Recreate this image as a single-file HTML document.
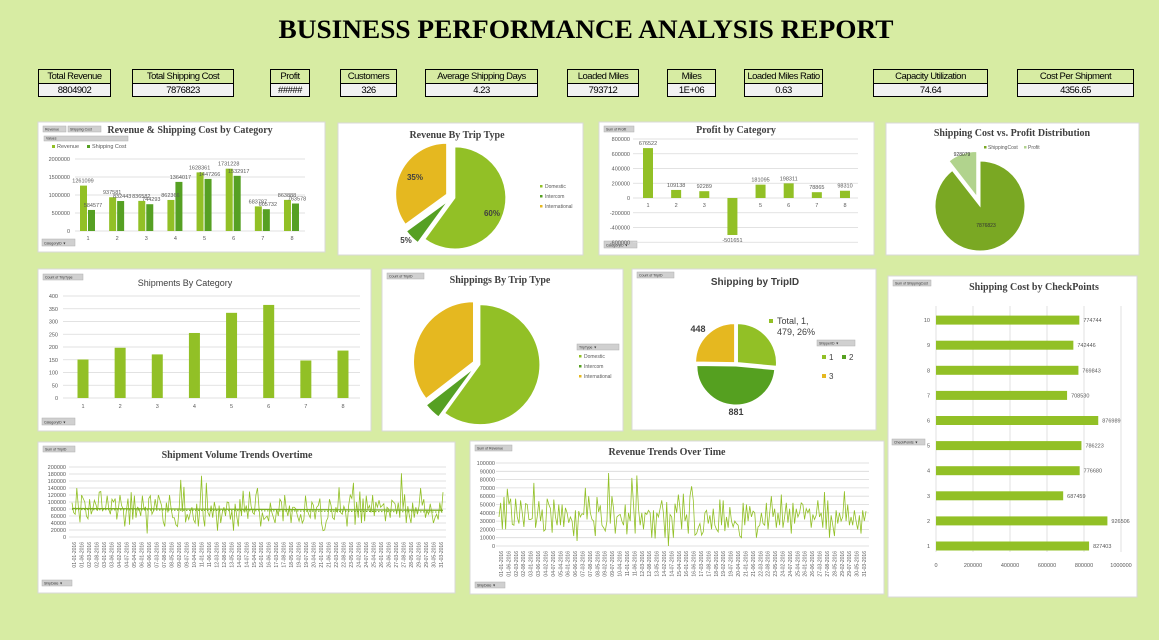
<!DOCTYPE html>
<html><head><meta charset="utf-8">
<style>
html,body{margin:0;padding:0;}
body{width:1159px;height:640px;background:#d7eca3;position:relative;overflow:hidden;font-family:"Liberation Sans",sans-serif;}
.kpi{position:absolute;top:69px;border:1px solid #000;font-size:9.5px;letter-spacing:-0.5px;text-align:center;line-height:13px;color:#000;}
.kpi .h{height:13px;border-bottom:1px solid #000;background:#d7eca3;white-space:nowrap;overflow:hidden;}
.kpi .v{height:12px;background:#f2f2f2;}
svg{position:absolute;left:0;top:0;}
</style></head>
<body>
<svg id="s" width="1159" height="640">
<text x="586" y="38" text-anchor="middle" font-family="Liberation Serif,serif" font-weight="bold" font-size="26" textLength="615" lengthAdjust="spacingAndGlyphs" fill="#000">BUSINESS PERFORMANCE ANALYSIS REPORT</text>
<rect x="38" y="122" width="287" height="130" fill="#fff" stroke="#d9d9d9"/>
<rect x="338" y="123" width="245" height="132" fill="#fff" stroke="#d9d9d9"/>
<rect x="599" y="122" width="275" height="133" fill="#fff" stroke="#d9d9d9"/>
<rect x="886" y="123" width="253" height="132" fill="#fff" stroke="#d9d9d9"/>
<rect x="38" y="269" width="333" height="162" fill="#fff" stroke="#d9d9d9"/>
<rect x="382" y="269" width="241" height="162" fill="#fff" stroke="#d9d9d9"/>
<rect x="632" y="269" width="244" height="161" fill="#fff" stroke="#d9d9d9"/>
<rect x="888" y="276" width="249" height="321" fill="#fff" stroke="#d9d9d9"/>
<rect x="38" y="442" width="417" height="151" fill="#fff" stroke="#d9d9d9"/>
<rect x="470" y="441" width="414" height="153" fill="#fff" stroke="#d9d9d9"/>
<g font-family="Liberation Serif,serif" font-weight="bold" font-size="10" fill="#404040" text-anchor="middle">
<text x="190" y="133">Revenue &amp; Shipping Cost by Category</text>
<text x="457" y="138">Revenue By Trip Type</text>
<text x="736" y="133">Profit by Category</text>
<text x="1012" y="136">Shipping Cost vs. Profit Distribution</text>
<text x="500" y="283">Shippings By Trip Type</text>
<text x="1034" y="290">Shipping Cost by CheckPoints</text>
<text x="237" y="458">Shipment Volume Trends Overtime</text>
<text x="667" y="455">Revenue Trends Over Time</text>
</g>
<text x="185" y="286" text-anchor="middle" font-size="9" fill="#404040">Shipments By Category</text>
<text x="755" y="285" text-anchor="middle" font-size="10" font-weight="bold" fill="#404040">Shipping by TripID</text>
</svg>

<div class="kpi" style="left:38px;width:71px"><div class="h">Total Revenue</div><div class="v">8804902</div></div>
<div class="kpi" style="left:132px;width:100px"><div class="h">Total Shipping Cost</div><div class="v">7876823</div></div>
<div class="kpi" style="left:270px;width:38px"><div class="h">Profit</div><div class="v">#####</div></div>
<div class="kpi" style="left:340px;width:55px"><div class="h">Customers</div><div class="v">326</div></div>
<div class="kpi" style="left:425px;width:111px"><div class="h">Average Shipping Days</div><div class="v">4.23</div></div>
<div class="kpi" style="left:567px;width:70px"><div class="h">Loaded Miles</div><div class="v">793712</div></div>
<div class="kpi" style="left:667px;width:47px"><div class="h">Miles</div><div class="v">1E+06</div></div>
<div class="kpi" style="left:744px;width:77px"><div class="h">Loaded Miles Ratio</div><div class="v">0.63</div></div>
<div class="kpi" style="left:873px;width:113px"><div class="h">Capacity Utilization</div><div class="v">74.64</div></div>
<div class="kpi" style="left:1017px;width:115px"><div class="h">Cost Per Shipment</div><div class="v">4356.65</div></div>

<script>
const catA=[1,2,3,4,5,6,7,8];
const revA=[1261099,937581,836582,862366,1628361,1731228,683787,863888];
const shipA=[584577,832443,744293,1364017,1447266,1532917,605732,763578];
const ticksA=[0,500000,1000000,1500000,2000000];
const tripTypes=["Domestic","Intercom","International"];
const revByTrip=[60,5,35];
const catC=[1,2,3,4,5,6,7,8];
const profitC=[676522,109138,92289,-501651,181095,198311,78865,98310];
const ticksC=[800000,600000,400000,200000,0,-200000,-400000,-600000];
const costProfitLabels=["ShippingCost","Profit"];
const costProfitVals=[7876823,928079];
const catE=[1,2,3,4,5,6,7,8];
const shipCountE=[151,197,171,255,334,365,147,186];
const ticksE=[0,50,100,150,200,250,300,350,400];
const shipByTrip=[60,4.5,35.5];
const shipperIds=["1","2","3"];
const shipperCounts=[479,881,448];
const checkpoints=[1,2,3,4,5,6,7,8,9,10];
const cpCost=[827403,926506,687459,776680,786223,876989,708530,769843,742446,774744];
const ticksH=[0,200000,400000,600000,800000,1000000];
const ticksI=[0,20000,40000,60000,80000,100000,120000,140000,160000,180000,200000];
const ticksJ=[0,10000,20000,30000,40000,50000,60000,70000,80000,90000,100000];
const dateLabels=["01-01-2016","01-06-2016","02-03-2016","02-08-2016","03-01-2016","03-06-2016","04-02-2016","04-07-2016","05-04-2016","06-01-2016","06-06-2016","07-03-2016","07-08-2016","08-05-2016","09-02-2016","09-07-2016","10-04-2016","11-01-2016","11-06-2016","12-03-2016","12-08-2016","13-05-2016","14-02-2016","14-07-2016","15-04-2016","16-01-2016","16-06-2016","17-03-2016","17-08-2016","18-05-2016","19-02-2016","19-07-2016","20-04-2016","21-01-2016","21-06-2016","22-03-2016","22-08-2016","23-05-2016","24-02-2016","24-07-2016","25-04-2016","26-01-2016","26-06-2016","27-03-2016","27-08-2016","28-05-2016","29-02-2016","29-07-2016","30-05-2016","31-03-2016"];
const volumeI=[98000,70000,65000,140000,85000,42000,120000,110000,100000,60000,52000,108000,65000,80000,105000,92000,75000,128000,130000,75000,80000,82000,118000,80000,65000,108000,100000,110000,50000,80000,120000,90000,80000,30000,75000,110000,35000,128000,50000,118000,55000,85000,80000,60000,118000,80000,85000,10000,110000,118000,65000,75000,108000,80000,120000,105000,90000,45000,30000,98000,70000,120000,80000,55000,55000,35000,30000,80000,163000,72000,143000,42000,65000,50000,70000,85000,50000,40000,95000,30000,85000,175000,60000,30000,155000,70000,60000,90000,55000,100000,75000,18000,90000,40000,70000,85000,60000,100000,98000,50000,75000,18000,95000,60000,30000,108000,60000,132000,70000,90000,52000,130000,88000,70000,65000,120000,140000,80000,30000,70000,50000,55000,60000,45000,98000,70000,55000,40000,80000,60000,108000,100000,45000,120000,80000,60000,90000,40000,85000,85000,80000,60000,45000,65000,40000,50000,118000,80000,65000,55000,100000,90000,50000,85000,90000,110000,40000,18000,20000,45000,55000,108000,90000,55000,50000,85000,70000,142000,70000,65000,88000,75000,30000,90000,120000,110000,155000,35000,100000,55000,130000,40000,110000,45000,118000,80000,90000,70000,120000,60000,100000,85000,105000,85000,90000,95000,45000,85000,80000,55000,105000,100000,95000,65000,98000,55000,182000,80000,122000,40000,88000,60000,40000,98000,55000,85000,65000,88000,140000,90000,108000,55000,75000,65000,95000,70000,40000,55000,65000,50000,98000,70000,128000];
const revenueJ=[35000,52000,20000,59000,20000,69000,50000,57000,26000,25000,57000,35000,27000,55000,40000,23000,51000,50000,32000,32000,33000,76000,22000,35000,54000,30000,44000,18000,20000,57000,50000,45000,16000,56000,35000,25000,50000,25000,50000,23000,46000,40000,28000,35000,30000,12000,43000,6000,42000,35000,39000,38000,70000,32000,60000,40000,32000,30000,12000,59000,41000,49000,25000,22000,18000,30000,88000,27000,60000,45000,15000,35000,37000,38000,30000,25000,50000,14000,40000,30000,82000,50000,15000,85000,45000,25000,40000,20000,40000,38000,43000,40000,10000,43000,9000,40000,35000,45000,55000,40000,10000,53000,0,38000,35000,10000,51000,40000,62000,45000,20000,63000,30000,38000,15000,60000,72000,55000,13000,15000,22000,27000,13000,17000,40000,43000,27000,37000,20000,45000,25000,20000,17000,56000,25000,55000,18000,35000,22000,47000,30000,23000,30000,27000,25000,12000,10000,52000,25000,50000,30000,48000,35000,42000,40000,10000,23000,25000,40000,27000,25000,52000,20000,40000,60000,35000,45000,22000,40000,25000,62000,22000,35000,52000,28000,45000,15000,52000,27000,45000,35000,40000,52000,50000,32000,45000,40000,45000,22000,38000,32000,37000,55000,35000,40000,22000,65000,20000,55000,10000,37000,25000,12000,43000,27000,40000,30000,35000,66000,30000,50000,25000,35000,25000,43000,30000,20000,37000,15000,43000,30000,42000];

const S=document.getElementById('s');
const NS='http://www.w3.org/2000/svg';
function mk(tag,attrs,txt){const e=document.createElementNS(NS,tag);for(const k in attrs)e.setAttribute(k,attrs[k]);if(txt!==undefined)e.textContent=txt;S.appendChild(e);return e;}
const AX='#595959',GR='#d9d9d9',LG='#92c026',DG='#56a023',YL='#e5b820';

function button(x,y,w,h,label,arrow){
  const r=mk('rect',{x:x,y:y,width:w,height:h,fill:'#d0d0d0',stroke:'#b0b0b0','stroke-width':0.5});
  
  
  const t=mk('text',{x:x+2,y:y+h-1.5,'font-size':3.5,fill:'#333'},label+(arrow?'  ▼':''));
  
  
}
function gline(x1,y1,x2,y2,name){
  const l=mk('line',{x1:x1,y1:y1,x2:x2,y2:y2,stroke:GR,'stroke-width':0.8});
  
  
}
function label(x,y,s,anchor,size,name,fill,weight){
  const t=mk('text',{x:x,y:y,'text-anchor':anchor||'middle','font-size':size||6,fill:fill||AX,'font-weight':weight||'normal'},s);
  
  
  return t;
}
function slicePath(cx,cy,r,a0,a1){
  const p=a=>[cx+r*Math.sin(a),cy-r*Math.cos(a)];
  const [x0,y0]=p(a0),[x1,y1]=p(a1);
  return `M${cx},${cy}L${x0},${y0}A${r},${r} 0 ${a1-a0>Math.PI?1:0} 1 ${x1},${y1}Z`;
}
function pie(cx,cy,r,vals,cols,explode,name){
  const tot=vals.reduce((a,b)=>a+b,0);let a=0;const out=[];
  vals.forEach((v,i)=>{
    const a1=a+v/tot*2*Math.PI, mid=(a+a1)/2, ex=explode[i];
    const ox=cx+ex*Math.sin(mid), oy=cy-ex*Math.cos(mid);
    const p=mk('path',{d:slicePath(ox,oy,r,a,a1),fill:cols[i],stroke:'#fff','stroke-width':1});
    
    
    out.push({mid:mid,cx:ox,cy:oy});a=a1;
  });
  return out;
}

// ---- Chart A
button(43,126,23,6,'Revenue');button(68,126,33,6,'Shipping Cost');button(44,136,84,5,'Values');button(42,239,33,7,'CategoryID',true);
const yA=v=>231-v/2000000*72, xA=i=>88+i*29.14;
ticksA.forEach(t=>{gline(75,yA(t),305,yA(t),'revenue-gridline');label(70,yA(t)+2,String(t),'end',5.5,'revenue-y-tick');});
catA.forEach((c,i)=>{
  label(xA(i),240,String(c),'middle',5.5,'revenue-x-tick');
  const b1=mk('rect',{x:xA(i)-8,y:yA(revA[i]),width:7,height:231-yA(revA[i]),fill:LG});
  
  
  const b2=mk('rect',{x:xA(i),y:yA(shipA[i]),width:7,height:231-yA(shipA[i]),fill:DG});
  
  
  label(xA(i)-5,yA(revA[i])-3,String(revA[i]),'middle',5.5,'revenue-value-label');
  label(xA(i)+5,yA(shipA[i])-3,String(shipA[i]),'middle',5.5,'shipping-value-label');
});
mk('rect',{x:52,y:145,width:3,height:3,fill:LG});
label(57,148,'Revenue','start',5.5,'legend-revenue');
mk('rect',{x:87,y:145,width:3,height:3,fill:DG});
label(92,148,'Shipping Cost','start',5.5,'legend-shipping-cost');

// ---- Chart B
pie(452,197,51,revByTrip,[LG,DG,YL],[3,6,6],'revenue-trip');
label(492,216,'60%','middle',8,'revenue-domestic-pct','#404040','bold');
label(415,180,'35%','middle',8,'revenue-international-pct','#404040','bold');
label(406,243,'5%','middle',8,'revenue-intercom-pct','#404040','bold');
tripTypes.forEach((t,i)=>{
  const m=mk('rect',{x:540,y:185+i*10,width:2.5,height:2.5,fill:[LG,DG,YL][i]});
  
  
  label(545,188+i*10,t,'start',5,'legend-'+t.toLowerCase());
});

// ---- Chart C
button(604,126,30,6,'Sum of Profit');button(604,241,33,7,'CategoryID',true);
const yC=v=>198-v/800000*59, xC=i=>648+i*28.14;
ticksC.forEach(t=>{gline(633,yC(t),858,yC(t),'profit-gridline');label(630,yC(t)+2,String(t),'end',5.5,'profit-y-tick');});
catC.forEach((c,i)=>{
  label(xC(i),207,String(c),'middle',5.5,'profit-x-tick');
  const v=profitC[i],y0=Math.min(yC(v),yC(0)),h=Math.abs(yC(v)-yC(0));
  const b=mk('rect',{x:xC(i)-5,y:y0,width:10,height:h,fill:LG});
  
  
  label(xC(i),v>=0?yC(v)-3:yC(v)+7,String(v),'middle',5.5,'profit-value-label');
});

// ---- Chart D
pie(980,206,45,costProfitVals,['#7aa823','#b1d38d'],[0,10],'cost-profit');
label(986,227,String(costProfitVals[0]),'middle',5,'shipping-cost-value','#333');
label(962,156,String(costProfitVals[1]),'middle',5,'profit-value','#333');
mk('rect',{x:984,y:146,width:2.5,height:2.5,fill:'#7aa823'});
label(988,149,costProfitLabels[0],'start',5,'legend-shippingcost');
mk('rect',{x:1024,y:146,width:2.5,height:2.5,fill:'#b1d38d'});
label(1028,149,costProfitLabels[1],'start',5,'legend-profit');

// ---- Chart E
button(43,274,40,6,'Count of TripType');button(42,418,33,7,'CategoryID',true);
const yE=v=>398-v/400*102, xE=i=>83+i*37.14;
ticksE.forEach(t=>{gline(63,yE(t),360,yE(t),'shipments-gridline');label(58,yE(t)+2,String(t),'end',5.5,'shipments-y-tick');});
catE.forEach((c,i)=>{
  label(xE(i),408,String(c),'middle',5.5,'shipments-x-tick');
  const b=mk('rect',{x:xE(i)-5.5,y:yE(shipCountE[i]),width:11,height:398-yE(shipCountE[i]),fill:LG});
  
  
});

// ---- Chart F
button(387,273,37,6,'Count of TripID');
pie(478,364,60,shipByTrip,[LG,DG,YL],[2,6,5],'shippings-trip');
button(577,344,42,6,'TripType',true);
tripTypes.forEach((t,i)=>{
  const m=mk('rect',{x:579,y:355+i*10,width:2.5,height:2.5,fill:[LG,DG,YL][i]});
  
  
  label(584,358+i*10,t,'start',5,'legend-'+t.toLowerCase());
});

// ---- Chart G
button(637,272,37,6,'Count of TripID');
pie(736,364,39,shipperCounts,[LG,'#55a020',YL],[2,2,2],'tripid');
const totG=shipperCounts.reduce((a,b)=>a+b,0);
mk('rect',{x:769,y:319,width:4,height:4,fill:LG});
label(777,324,'Total, 1,','start',9,'tripid-label-1','#404040');
label(777,335,shipperCounts[0]+', '+Math.round(shipperCounts[0]/totG*100)+'%','start',9,'tripid-label-1b','#404040');
label(698,332,String(shipperCounts[2]),'middle',9,'tripid-label-3','#404040','bold');
label(736,415,String(shipperCounts[1]),'middle',9,'tripid-label-2','#404040','bold');
button(817,340,38,6,'ShipperID',true);
mk('rect',{x:822,y:355,width:4,height:4,fill:LG});
label(829,360,shipperIds[0],'start',8,'legend-shipper-1','#404040');
mk('rect',{x:842,y:355,width:4,height:4,fill:'#55a020'});
label(849,360,shipperIds[1],'start',8,'legend-shipper-2','#404040');
mk('rect',{x:822,y:374,width:4,height:4,fill:YL});
label(829,379,shipperIds[2],'start',8,'legend-shipper-3','#404040');

// ---- Chart H
button(893,280,38,6,'Sum of ShippingCost');button(892,439,33,6,'CheckPoints',true);
const xH=v=>936+v/1000000*185, yH=k=>546-(k-1)*25.1;
ticksH.forEach(t=>{gline(xH(t),306,xH(t),552,'checkpoint-gridline');label(xH(t),567,String(t),'middle',5.5,'checkpoint-x-tick');});
checkpoints.forEach((c,i)=>{
  label(930,yH(c)+2,String(c),'end',5.5,'checkpoint-y-tick');
  const b=mk('rect',{x:xH(0),y:yH(c)-4.5,width:xH(cpCost[i])-xH(0),height:9,fill:LG});
  
  
  label(xH(cpCost[i])+4,yH(c)+2,String(cpCost[i]),'start',5.5,'checkpoint-value-label');
});

// ---- Time series
function series(vals,ticks,max,x0,x1,yb,yt,ylabX,name){
  const y=v=>yb-v/max*(yb-yt), x=i=>x0+i*(x1-x0)/(vals.length-1);
  ticks.forEach(t=>{gline(x0-3,y(t),x1+3,y(t),name+'-gridline');label(ylabX,y(t)+2,String(t),'end',5.5,name+'-y-tick');});
  const p=mk('polyline',{points:vals.map((v,i)=>x(i)+','+y(v)).join(' '),fill:'none',stroke:LG,'stroke-width':0.8});
  
  
  dateLabels.forEach((d,i)=>{
    const lx=x0+2+i*(x1-x0-4)/(dateLabels.length-1);
    const t=mk('text',{x:0,y:0,'font-size':5,fill:AX,'text-anchor':'end',transform:`translate(${lx+2},${yb+5}) rotate(-90)`},d);
    
    
  });
  return {x:x,y:y};
}
button(43,446,32,6,'Sum of TripID');button(42,580,30,6,'ShipDate',true);
const sI=series(volumeI,ticksI,200000,72,443,537,467,66,'volume');
const n=volumeI.length, mean=volumeI.reduce((a,b)=>a+b,0)/n;
const tr1=mk('line',{x1:sI.x(0),y1:sI.y(mean+2000),x2:sI.x(n-1),y2:sI.y(mean-3000),stroke:'#7ab020','stroke-width':1.2});


const tr2=mk('line',{x1:sI.x(0),y1:sI.y(mean-1000),x2:sI.x(n-1),y2:sI.y(mean-8000),stroke:'#7ab020','stroke-width':1,'stroke-dasharray':'1.5,1.5'});


button(475,445,37,6,'Sum of Revenue');button(475,582,30,6,'ShipDate',true);
series(revenueJ,ticksJ,100000,499,866,546,463,495,'revenue-trend');
</script>
</body></html>
